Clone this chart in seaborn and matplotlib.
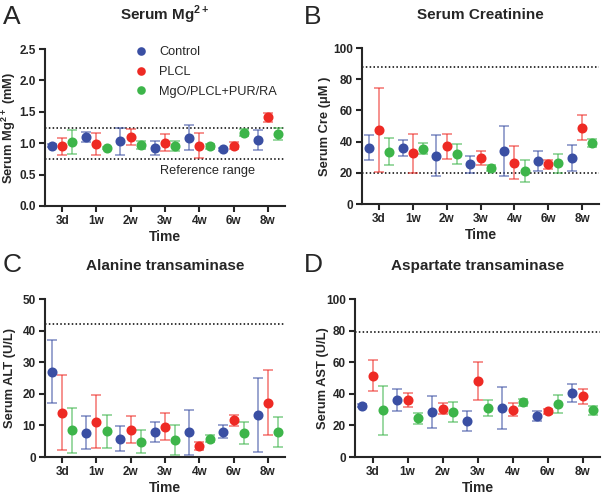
import numpy as np
import pandas as pd
import seaborn as sns
from matplotlib import pyplot as plt

times = ["3d", "1w", "2w", "3w", "4w", "6w", "8w"]
groups = ["Control", "PLCL", "MgO/PLCL+PUR/RA"]
colors = ["#3a4fa3", "#ee2a24", "#3db54a"]

# mean values and half-width of error bars, per group (Control, PLCL, MgO/PLCL+PUR/RA)
mg_mean = [[0.96, 1.10, 1.03, 0.93, 1.09, 0.90, 1.05],
           [0.95, 0.99, 1.10, 1.01, 0.96, 0.96, 1.41],
           [1.02, 0.92, 0.97, 0.95, 0.95, 1.17, 1.15]]
mg_err = [[0.02, 0.08, 0.22, 0.11, 0.20, 0.02, 0.16],
          [0.13, 0.17, 0.13, 0.14, 0.20, 0.06, 0.07],
          [0.19, 0.02, 0.06, 0.08, 0.04, 0.06, 0.10]]

cre_mean = [[36.0, 36.0, 31.0, 25.5, 34.0, 27.5, 29.5],
            [47.5, 32.5, 37.0, 29.5, 26.5, 25.5, 49.0],
            [33.5, 35.5, 32.0, 23.0, 21.0, 26.0, 39.0]]
cre_err = [[8.0, 5.0, 13.0, 5.5, 16.0, 6.5, 8.5],
           [27.0, 12.5, 8.0, 4.5, 10.5, 3.0, 8.0],
           [8.5, 3.3, 6.5, 2.0, 7.0, 6.0, 2.5]]

alt_mean = [[27.0, 7.7, 5.8, 8.0, 7.8, 8.0, 13.3],
            [14.0, 11.2, 8.7, 9.6, 3.6, 11.6, 17.2],
            [8.4, 8.2, 4.9, 5.3, 5.8, 7.5, 8.0]]
alt_err = [[9.9, 5.2, 3.9, 3.2, 7.2, 2.0, 11.7],
           [11.8, 8.4, 4.3, 4.2, 1.3, 1.8, 10.2],
           [7.0, 5.2, 3.6, 4.7, 1.2, 3.5, 4.8]]

ast_mean = [[32.5, 36.0, 28.5, 23.0, 31.0, 26.0, 40.5],
            [51.5, 36.0, 30.5, 48.0, 30.0, 29.0, 38.5],
            [29.5, 24.5, 28.5, 31.0, 34.5, 33.5, 29.5]]
ast_err = [[1.0, 7.0, 10.0, 6.3, 13.0, 3.0, 6.0],
           [9.8, 4.3, 3.5, 12.2, 4.3, 1.5, 4.8],
           [15.5, 3.5, 6.5, 5.0, 2.3, 5.5, 3.0]]

sns.set_style("ticks")
plt.rcParams["font.family"] = ["Liberation Sans", "DejaVu Sans"]
plt.rcParams["mathtext.fontset"] = "custom"
plt.rcParams["mathtext.rm"] = "Liberation Sans"
plt.rcParams["mathtext.bf"] = "Liberation Sans:bold"

W, H = 602, 496
fig = plt.figure(figsize=(W / 100, H / 100), dpi=100)


def px_box(left, top, right, bottom):
    return [left / W, 1 - bottom / H, (right - left) / W, (bottom - top) / H]


panels = [
    ("A", "Serum Mg$^{\\mathbf{2+}}$", "Serum Mg$^{\\mathbf{2+}}$ (mM)", mg_mean, mg_err,
     (0, 2.5), 0.5, [0.75, 1.25], px_box(45, 49, 285, 206), (3, 17), 18),
    ("B", "Serum Creatinine", "Serum Cre (\u03bcM )", cre_mean, cre_err,
     (0, 100), 20, [20, 88], px_box(362, 48, 599, 204), (304, 17), 331),
    ("C", "Alanine transaminase", "Serum ALT (U/L)", alt_mean, alt_err,
     (0, 50), 10, [42], px_box(45, 299, 285, 457), (3, 265), 16),
    ("D", "Aspartate transaminase", "Serum AST (U/L)", ast_mean, ast_err,
     (0, 100), 20, [79], px_box(355, 299, 600, 457), (304, 265), 329),
]

offsets = [-0.3, 0.0, 0.3]

for letter, title, ylabel, means, errs, ylim, step, refs, pos, lpos, ylab_x in panels:
    ax = fig.add_axes(pos)
    rows = []
    for g, m in zip(groups, means):
        for t, v in zip(times, m):
            rows.append({"Time": t, "Group": g, "Value": v})
    df = pd.DataFrame(rows)

    for gi, g in enumerate(groups):
        xs = np.arange(len(times)) + offsets[gi]
        ax.errorbar(xs, means[gi], yerr=errs[gi], fmt="none", ecolor=colors[gi],
                    alpha=0.6, elinewidth=1.2, capsize=3.3, capthick=1.2, zorder=2)

    sns.pointplot(data=df, x="Time", y="Value", hue="Group", order=times,
                  hue_order=groups, palette=colors, dodge=0.6, linestyle="none",
                  markers="o", markersize=5.2, errorbar=None, ax=ax, zorder=3)

    for r in refs:
        ax.axhline(r, color="black", linestyle=(0, (1, 1.5)), linewidth=1.1, zorder=1)

    ax.set_xlim(-0.5, 6.5)
    ax.set_ylim(ylim)
    ax.set_yticks(np.arange(ylim[0], ylim[1] + step / 2, step))
    if step < 1:
        ax.set_yticklabels([f"{v:.1f}" for v in ax.get_yticks()])
    ax.set_xlabel("Time", fontsize=10, fontweight="bold", labelpad=2)
    ax.set_ylabel(ylabel, fontsize=9.3, fontweight="bold")
    bw = pos[2] * W
    ax.yaxis.set_label_coords((ylab_x - pos[0] * W) / bw, 0.5)
    ax.set_title(title, fontsize=11, fontweight="bold", pad=21)
    for lab in ax.get_xticklabels() + ax.get_yticklabels():
        lab.set_fontweight("bold")
    ax.tick_params(labelsize=8.5, width=1.5, length=4.5, pad=2)
    sns.despine(ax=ax)
    for s in ["left", "bottom"]:
        ax.spines[s].set_linewidth(1.5)

    if letter == "A":
        ax.legend(loc="upper left", bbox_to_anchor=(0.30, 1.09), frameon=False,
                  fontsize=9.2, handletextpad=0.4, labelspacing=0.6,
                  markerscale=0.8)
        ax.text(2.85, 0.55, "Reference range", fontsize=9.2, va="center")
    else:
        ax.get_legend().remove()

    fig.text(lpos[0] / W, 1 - lpos[1] / H, letter, fontsize=19, va="center", ha="left")

fig.savefig("out.png", dpi=100)
